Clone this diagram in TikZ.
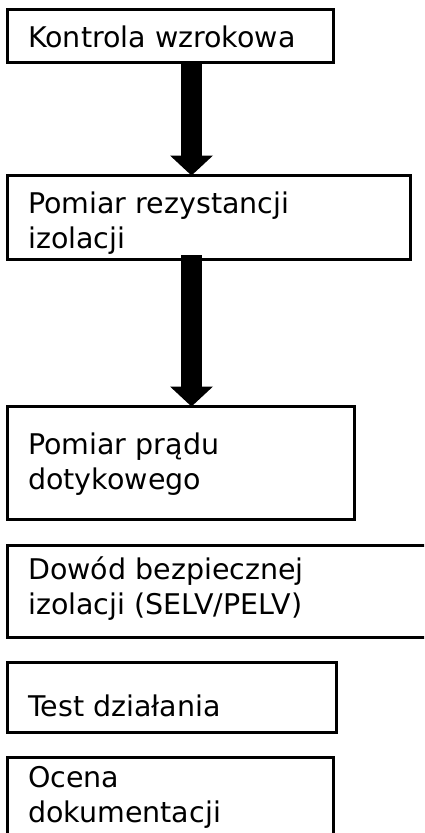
\documentclass[tikz,border=0pt]{standalone}
\usepackage{fontspec}
\setmainfont{DejaVu Sans}
\usetikzlibrary{arrows.meta}
\tikzset{
stepbox/.style={ % the frame of one step
draw,
line width=3pt,
anchor=north west,
inner sep=0pt,
outer sep=0pt},
steptext/.style={ % text inside a frame, placed by its last baseline
anchor=base west,
align=left,
inner sep=0pt,
font=\fontsize{28.5}{35}\selectfont},
flow/.style={ % thick block arrow
line width=21pt,
-{Triangle[width=43pt,length=20pt,line width=0pt]}}}

\begin{document}
\begin{tikzpicture}[x=1pt,y=-1pt]
\clip (0,0) rectangle (424,833);
\coordinate (axis) at (191.5,0);
% frames
\node[stepbox, minimum width=325.5pt, minimum height=52.5pt] (b1) at (7.5,9.5) {};
\node[stepbox, minimum width=403pt, minimum height=83.5pt] (b2) at (7.5,175.5) {};
\node[stepbox, minimum width=347pt, minimum height=113pt] (b3) at (7.5,406.5) {};
\node[stepbox, minimum width=430pt, minimum height=92pt] (b4) at (7.5,545) {};
\node[stepbox, minimum width=328.5pt, minimum height=70pt] (b5) at (7.5,662) {};
\node[stepbox, minimum width=326pt, minimum height=100pt] (b6) at (7.5,757) {};
% texts
\node[steptext] (t1) at (28,47) {Kontrola wzrokowa};
\node[steptext] (t2) at (28,248) {Pomiar rezystancji\\izolacji};
\node[steptext] (t3) at (28,489) {Pomiar prądu\\dotykowego};
\node[steptext] (t4) at (28,614) {Dowód bezpiecznej\\izolacji (SELV/PELV)};
\node[steptext] (t5) at (28,716.5) {Test działania};
\node[steptext] (t6) at (28,822) {Ocena\\dokumentacji};
% arrows
\draw[flow] (b1.south -| axis) -- (b2.north -| axis);
\draw[flow] ([yshift=4pt]b2.south -| axis) -- (b3.north -| axis);
\end{tikzpicture}
\end{document}
